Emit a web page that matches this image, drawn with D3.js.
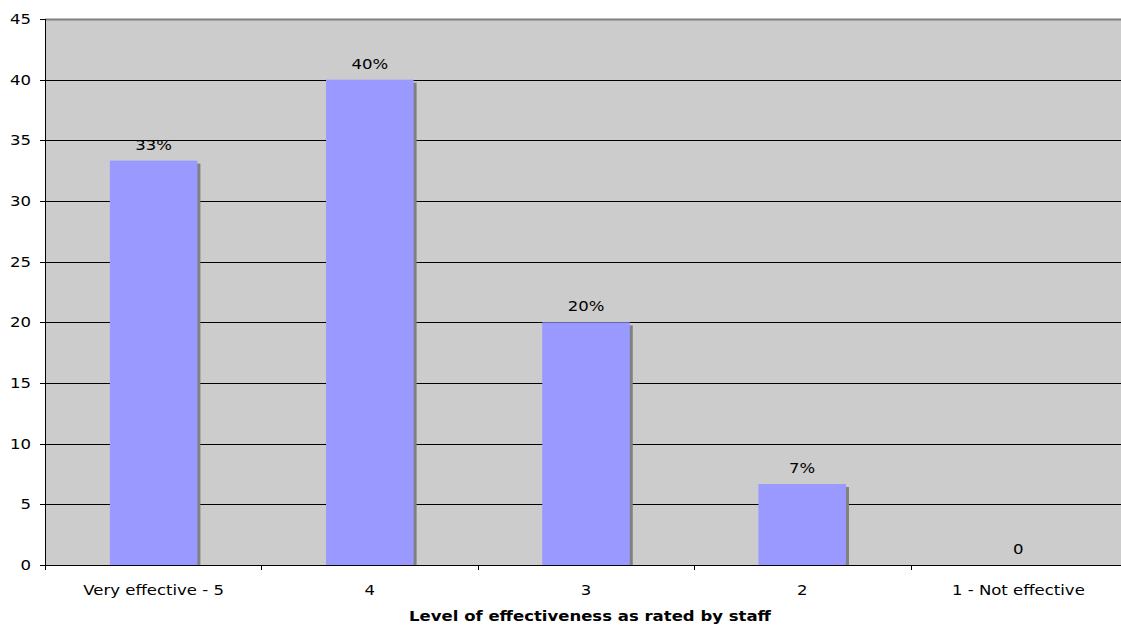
<!DOCTYPE html>
<html>
<head>
<meta charset="utf-8">
<script src="https://cdn.jsdelivr.net/npm/d3@7"></script>
<style>
  body { margin: 0; background: #fff; }
  text { font-family: "DejaVu Sans", Verdana, sans-serif; font-size: 14px; fill: #000; }
</style>
</head>
<body>
<div id="chart"></div>
<script>
const categories = ["Very effective - 5", "4", "3", "2", "1 - Not effective"];
const values = [33.33, 40, 20, 6.67, 0];
const labels = ["33%", "40%", "20%", "7%", "0"];
const yTicks = [0, 5, 10, 15, 20, 25, 30, 35, 40, 45];

const W = 1121, H = 625;
const margin = { top: 19, right: -6, bottom: 60, left: 45 };
const width = W - margin.left - margin.right;
const height = H - margin.top - margin.bottom;
const stretch = 1.18; // text in the original is a little wide

const svg = d3.select("#chart").append("svg")
    .attr("width", W)
    .attr("height", H);

const g = svg.append("g")
    .attr("transform", "translate(" + margin.left + "," + margin.top + ")");

// helper: text placed at (px, py), stretched horizontally
function addText(sel, px, py) {
    return sel.attr("transform", (d, i) =>
        "translate(" + px(d, i) + "," + py(d, i) + ") scale(" + stretch + ",1)");
}

const x = d3.scaleBand()
    .domain(categories)
    .range([0, width])
    .paddingInner(0.595)
    .paddingOuter(0.3);

const y = d3.scaleLinear()
    .domain([0, 45])
    .range([height, 0]);

// plot background
g.append("rect")
    .attr("width", width)
    .attr("height", height)
    .attr("fill", "#cccccc");

// gridlines
g.selectAll(".grid")
    .data(yTicks.filter(d => d > 0 && d < 45))
    .enter().append("line")
    .attr("x1", 0).attr("x2", width)
    .attr("y1", d => Math.round(y(d)) + 0.5)
    .attr("y2", d => Math.round(y(d)) + 0.5)
    .attr("stroke", "#000");

// top border
g.append("line")
    .attr("x1", 0).attr("x2", width)
    .attr("y1", 0.5).attr("y2", 0.5)
    .attr("stroke", "#808080")
    .attr("stroke-width", 2);

// bar shadows
g.selectAll(".shadow")
    .data(values)
    .enter().append("rect")
    .attr("x", (d, i) => x(categories[i]) + 3)
    .attr("y", d => y(d) + 3)
    .attr("width", x.bandwidth())
    .attr("height", d => Math.max(0, height - y(d) - 3))
    .attr("fill", "#808080");

// bars
g.selectAll(".bar")
    .data(values)
    .enter().append("rect")
    .attr("x", (d, i) => x(categories[i]))
    .attr("y", d => y(d))
    .attr("width", x.bandwidth())
    .attr("height", d => height - y(d))
    .attr("fill", "#9999ff");

// value labels
addText(g.selectAll(".lbl")
    .data(values)
    .enter().append("text")
    .attr("text-anchor", "middle")
    .text((d, i) => labels[i]),
    (d, i) => x(categories[i]) + x.bandwidth() / 2,
    d => y(d) - 11);

// y axis
g.append("line")
    .attr("x1", 0.5).attr("x2", 0.5)
    .attr("y1", 0).attr("y2", height)
    .attr("stroke", "#000");
g.selectAll(".ytick")
    .data(yTicks)
    .enter().append("line")
    .attr("x1", -5).attr("x2", 0)
    .attr("y1", d => Math.round(y(d)) + 0.5)
    .attr("y2", d => Math.round(y(d)) + 0.5)
    .attr("stroke", "#000");
addText(g.selectAll(".ylab")
    .data(yTicks)
    .enter().append("text")
    .attr("text-anchor", "end")
    .attr("dy", "0.36em")
    .text(d => d),
    () => -14,
    d => y(d));

// x axis
const xg = g.append("g")
    .attr("transform", "translate(0," + height + ")");
xg.append("line")
    .attr("x1", 0).attr("x2", width)
    .attr("y1", 0.5).attr("y2", 0.5)
    .attr("stroke", "#000");
xg.selectAll(".tick")
    .data(d3.range(categories.length))
    .enter().append("line")
    .attr("x1", i => Math.round(i * width / categories.length) + 0.5)
    .attr("x2", i => Math.round(i * width / categories.length) + 0.5)
    .attr("y1", 0).attr("y2", 5)
    .attr("stroke", "#000");
addText(xg.selectAll(".xl")
    .data(categories)
    .enter().append("text")
    .attr("text-anchor", "middle")
    .text(d => d),
    d => x(d) + x.bandwidth() / 2,
    () => 30);

// axis title
addText(g.append("text")
    .attr("text-anchor", "middle")
    .style("font-weight", "bold")
    .text("Level of effectiveness as rated by staff"),
    () => 545,
    () => height + 56);
</script>
</body>
</html>
